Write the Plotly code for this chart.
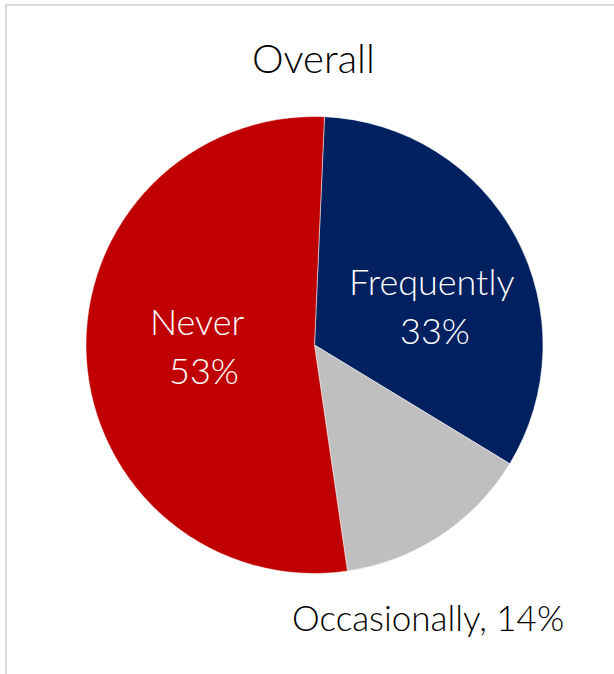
import plotly.graph_objects as go

labels = ["Frequently", "Occasionally", "Never"]
values = [33, 14, 53]
colors = ["#002060", "#BFBFBF", "#C00000"]
title_text = "Overall"

W, H = 614, 674
cx, cy, r = 314.5, 345, 228.5
FONT = "Lato"

fig = go.Figure(go.Pie(
    labels=labels,
    values=values,
    sort=False,
    direction="clockwise",
    rotation=2.5,
    marker=dict(colors=colors, line=dict(color="#FFFFFF", width=0.5)),
    textinfo="none",
    hoverinfo="label+percent",
    showlegend=False,
    domain=dict(x=[(cx - r) / W, (cx + r) / W], y=[1 - (cy + r) / H, 1 - (cy - r) / H]),
))


def label(xp, yp, txt, color, size=36):
    fig.add_annotation(
        x=xp / W, y=1 - yp / H, xref="paper", yref="paper",
        xanchor="center", yanchor="middle",
        text=txt, showarrow=False,
        font=dict(family=FONT, size=size, color=color, weight=300),
    )


label(431, 281, labels[0], "white")
label(435, 330, f"{values[0]}%", "white")
label(197, 321, labels[2], "white")
label(204, 370, f"{values[2]}%", "white")
label(428, 617, f"{labels[1]}, {values[1]}%", "black", size=35)
label(313, 58, title_text, "black", size=40)

fig.add_shape(type="rect", xref="paper", yref="paper",
              x0=6 / W, x1=1.05, y0=-0.05, y1=1 - 5 / H,
              line=dict(color="#D0D0D0", width=1.5), fillcolor="rgba(0,0,0,0)")

fig.update_layout(
    width=W, height=H,
    margin=dict(l=0, r=0, t=0, b=0),
    paper_bgcolor="white", plot_bgcolor="white",
)
fig.write_html("out.html")
